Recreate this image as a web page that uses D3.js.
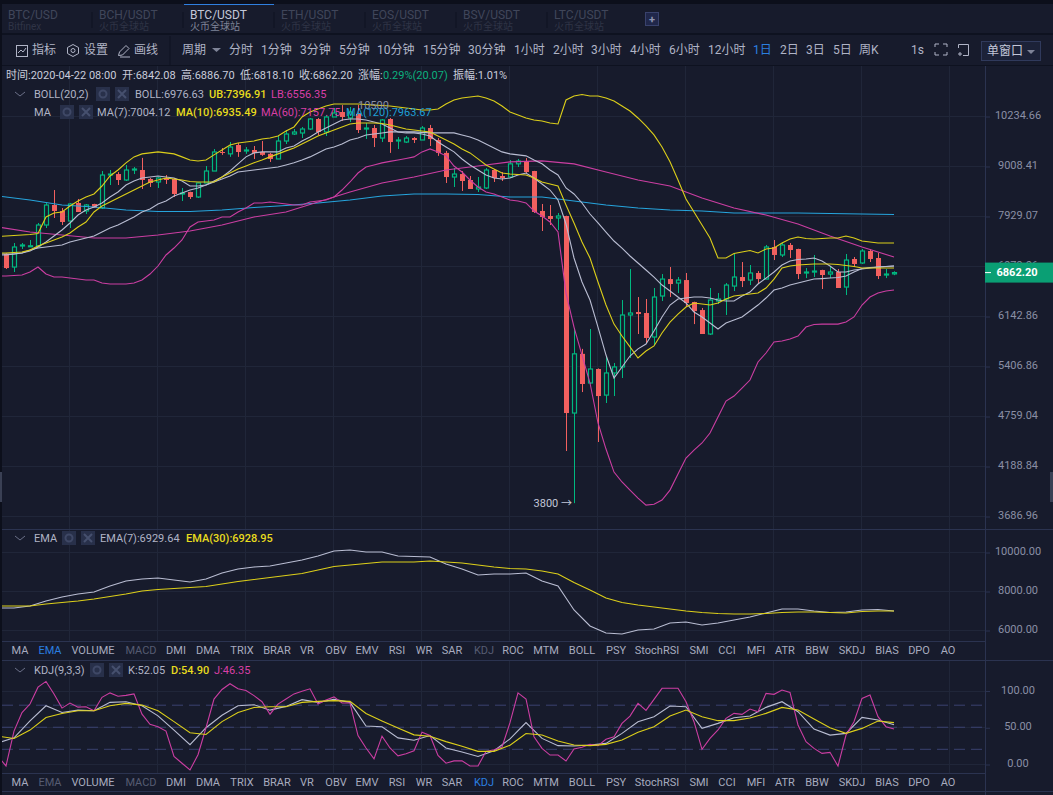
<!DOCTYPE html>
<html>
<head>
<meta charset="utf-8">
<title>BTC/USDT</title>
<script src="https://cdn.jsdelivr.net/npm/d3@7"></script>
<style>
  html, body { margin: 0; padding: 0; background: #171b2c; overflow: hidden; }
  svg { display: block; font-family: Roboto, "Noto Sans CJK SC", sans-serif; }
</style>
</head>
<body>
<svg id="chart" width="1053" height="795"></svg>
<script>
// candles, one per day
var opens = [7178,6943,7326,7318,7326,7729,8134,8011,7809,8176,
  8011,8155,8072,8781,8803,8670,8894,8894,8692,8626,
  8714,8692,8366,8408,8302,8604,8871,9312,9268,9480,
  9339,9360,9312,9268,9148,9577,9750,9775,9875,10131,
  9800,10183,10313,10157,10261,9875,9900,9650,10131,9579,
  9552,9650,9602,9900,9602,9291,8736,8803,8670,8473,
  8495,8894,8759,8736,9035,9100,8871,8011,7909,7869,
  7909,4783,5563,5164,5352,5007,5298,5380,6143,6190,
  6174,5807,6448,6733,6665,6716,6350,6221,5852,6366,
  6399,6614,6768,6716,6838,6733,7307,7160,7345,7270,
  6838,6855,6890,6820,6855,6597,7087,7015,7233,7105,
  6803,6822];
var highs = [7190,7382,7382,7439,7769,8176,8451,8072,8176,8260,
  8155,8160,8871,8894,8848,9008,8962,9174,8714,8736,
  8781,8714,8495,8415,8610,8985,9383,9407,9552,9530,
  9431,9456,9577,9291,9700,9850,9875,9925,10157,10157,
  10235,10418,10497,10445,10500,10029,9978,10131,10157,9675,
  9700,9675,9950,9978,9650,9339,8939,8871,8759,8736,
  8939,8916,8848,9124,9148,9170,8875,8155,8134,7970,
  7915,5942,5634,5927,5360,5520,5435,6382,6908,6431,
  6399,6581,6820,6943,6768,6838,6355,6254,6581,6497,
  6665,7196,7032,6979,6872,7345,7439,7382,7382,7275,
  6925,7160,6895,6961,6908,7178,7123,7270,7270,7196,
  6908,6868];
var lows = [6908,6855,7270,7307,7307,7670,7869,7729,7670,7990,
  7949,8072,8051,8560,8560,8648,8803,8473,8516,8495,
  8582,8302,8217,8260,8281,8604,8871,9244,9197,9197,
  9268,9148,9221,9078,9148,9504,9725,9650,9850,9725,
  9700,10183,10080,10054,9775,9628,9431,9552,9291,9383,
  9528,9528,9602,9456,9221,8604,8516,8430,8473,8408,
  8473,8626,8648,8714,8962,8826,7970,7612,7729,7631,
  4341,3800,5046,5151,4442,4907,4995,5230,5504,5852,
  5719,5691,6366,6431,6497,6269,6002,5852,5837,6318,
  6143,6530,6597,6631,6665,6733,7068,7123,7105,6733,
  6750,6768,6564,6750,6581,6464,6943,6997,7032,6733,
  6750,6800];
var closes = [6925,7307,7345,7330,7729,8134,8011,7789,8155,7990,
  8134,8072,8781,8803,8670,8894,8916,8670,8604,8714,
  8670,8366,8387,8302,8604,8871,9312,9291,9431,9312,
  9360,9291,9244,9148,9577,9750,9800,9875,10131,9800,
  10183,10287,10183,10313,9850,9900,9650,10106,9552,9602,
  9650,9602,9900,9625,9291,8736,8803,8648,8473,8516,
  8894,8714,8714,9035,9100,8848,7990,7889,7849,7909,
  4783,5563,5151,5352,4995,5298,5380,6143,6174,6158,
  5793,6431,6733,6648,6716,6334,6205,5852,6382,6399,
  6631,6768,6699,6838,6733,7307,7160,7345,7251,6820,
  6855,6872,6803,6855,6581,7068,6997,7233,7087,6785,
  6820,6845];

// overlay lines start one day before the first candle
var bollMid = [7178,7178,7178,7196,7251,7288,7307,7326,7345,7401,
  7439,7477,7515,7592,7670,7729,7809,7889,7990,8051,
  8155,8217,8323,8387,8451,8495,8560,8626,8692,8759,
  8848,8871,8894,8916,8939,8962,9008,9058,9124,9197,
  9291,9386,9434,9506,9604,9653,9727,9752,9777,9802,
  9802,9802,9802,9790,9777,9777,9777,9777,9727,9677,
  9604,9506,9410,9315,9268,9244,9221,9124,9035,8894,
  8781,8495,8366,8176,7949,7769,7592,7420,7288,7141,
  7015,6890,6768,6631,6530,6431,6334,6190,6112,6018,
  5927,6018,6064,6112,6205,6301,6415,6547,6581,6631,
  6665,6699,6733,6741,6750,6759,6785,6855,6916,6934,6943,6952,6961];
var bollUpper = [7505,7515,7525,7534,7544,7563,7889,7970,7990,8113,
  8217,8302,8366,8538,8759,8894,9058,9197,9268,9291,
  9315,9291,9268,9197,9124,9100,9124,9244,9360,9480,
  9530,9555,9579,9628,9653,9702,9827,9927,10183,10313,
  10392,10471,10525,10525,10525,10525,10512,10497,10484,10471,
  10445,10418,10392,10366,10366,10392,10525,10634,10689,10716,
  10743,10689,10607,10471,10313,10235,10157,10106,10080,10029,
  10003,10634,10743,10785,10743,10743,10689,10607,10471,10339,
  10157,9952,9727,9434,9081,8670,8260,7990,7729,7477,
  7105,7105,7187,7214,7242,7196,7270,7288,7382,7458,
  7496,7467,7458,7467,7477,7477,7515,7477,7420,7401,7382,7382,7382];
var bollLower = [6785,6785,6794,6803,6855,6943,6820,6768,6768,6750,
  6733,6716,6716,6665,6648,6648,6648,6665,6716,6820,
  6961,7160,7288,7439,7690,7789,7809,7828,7889,7889,
  7990,8072,8176,8176,8196,8176,8155,8134,8134,8196,
  8217,8238,8302,8451,8626,8826,8962,9008,9058,9092,
  9124,9160,9197,9315,9386,9315,9221,8985,8848,8670,
  8516,8408,8366,8302,8238,8217,8176,8011,7909,7789,
  7592,6497,5957,5546,5164,4663,4363,4114,4011,3929,
  3850,3781,3790,3830,3929,4093,4264,4352,4431,4545,
  4735,4932,4995,5098,5203,5449,5575,5734,5749,5778,
  5822,5957,5995,6002,6002,6002,6033,6112,6301,6431,6497,6530,6547];
var ma7 = [7160,7160,7178,7196,7233,7307,7401,7515,7631,7769,
  7929,8031,8093,8176,8302,8408,8560,8648,8714,8736,
  8759,8736,8714,8648,8538,8538,8560,8648,8736,8871,
  9035,9197,9291,9315,9315,9315,9410,9458,9579,9677,
  9802,9902,10003,10106,10131,10131,10106,10054,10003,9902,
  9802,9777,9777,9752,9702,9555,9434,9315,9148,9008,
  8894,8781,8714,8692,8714,8781,8826,8714,8582,8451,
  8238,7749,7105,6682,6382,5957,5546,5230,5380,5532,
  5634,5704,5897,6112,6301,6399,6415,6431,6431,6415,
  6382,6366,6366,6448,6514,6648,6750,6855,6979,7050,
  7078,7087,7105,7050,6961,6855,6855,6890,6908,6925,6943,6952,6961];
var ma10 = [7196,7196,7205,7214,7251,7326,7382,7439,7496,7573,
  7690,7789,7990,8113,8196,8281,8366,8451,8538,8626,
  8670,8714,8692,8670,8637,8626,8626,8626,8736,8826,
  8916,8985,9058,9124,9197,9268,9339,9410,9506,9604,
  9702,9777,9852,9927,10003,10029,10029,10029,10016,9978,
  9927,9877,9852,9827,9802,9702,9604,9506,9386,9291,
  9151,9008,8916,8826,8803,8792,8781,8714,8626,8582,
  8538,8134,7769,7401,7105,6682,6301,6002,5822,5662,
  5504,5603,5676,5867,6033,6158,6269,6334,6318,6301,
  6334,6399,6448,6464,6480,6497,6581,6733,6925,6961,
  6979,6988,6997,6997,6997,6988,6970,6952,6925,6925,6925,6925,6925];
// slow averages, read every 4th day
var ma60 = [7690,7592,7534,7477,7477,7534,7612,7729,7889,7990,8196,8408,8604,8736,8894,
  8985,9081,9104,9035,8848,8670,8538,8281,8072,7929,7749,7515,7307,7123];
var ma120 = [8323,8238,8134,8093,8031,8000,8000,8031,8083,8123,8176,8238,8323,8366,8366,
  8355,8302,8302,8217,8134,8072,8031,8011,7970,7970,7970,7960,7949,7939];

// lower panes, read every 2nd day except J
var ema7 = [7077,7077,7180,7436,7641,7795,7897,8205,8462,8564,8615,8513,8410,8564,8872,
  9077,9180,9231,9385,9538,9744,10000,10051,9949,9949,9744,9718,9692,9333,9077,8769,8821,
  8821,8872,8462,8205,6974,6154,5795,5744,5949,6000,6308,6359,6205,6308,6462,6615,6821,
  7026,7026,6923,6846,6872,6974,7000,6923];
var ema30 = [7180,7180,7180,7282,7359,7436,7538,7667,7795,7949,8026,8077,8128,8180,8308,8436,
  8538,8641,8744,8846,9026,9205,9282,9359,9436,9436,9436,9487,9436,9385,9282,9180,9103,
  9077,8974,8821,8385,8000,7590,7359,7231,7128,7026,6923,6846,6795,6769,6769,6795,6846,
  6872,6872,6846,6821,6897,6923,6923];
var kdjK = [27.3,34.2,57.2,77.9,68.7,71.9,71,82.5,83.4,77.9,64.1,44.8,25,48,65,77.9,79.3,
  71.9,77,86.2,82.5,86.6,82.5,50.3,49.4,34.2,31,37.4,20.4,14.9,8.9,16.7,32.8,54.9,
  33.5,23.6,23.1,24.5,26.7,40.3,56.2,63,77.5,76.6,47.1,53.9,61.6,63.9,75.7,83.4,69.8,
  46.2,38,40.3,62.1,58.5,52.05];
var kdjD = [36.5,33.3,44.8,61.8,67.3,71,71,77.9,81.1,78.8,71,56.3,41.1,38.8,56.3,68.7,75.6,
  76.5,76.5,82.5,83.9,84.8,83.9,67.3,57.2,47.5,38.3,36.5,29.1,22.7,15.8,15.8,24.1,40.2,
  38,29.9,24.5,23.6,25.4,31.3,41.7,49.4,63.9,72,63,57.6,57.6,61.2,67.5,75.7,72,
  59.8,48,40.3,47.1,57.1,54.9];
var kdjJ = [8.9,-4,43.4,68.7,80.2,103.2,111,94,74.7,81.6,
  76,76.5,71,89.4,95.4,90.8,92,94,66.4,52.6,
  49.4,43.4,8.9,-0.3,-9.5,11.2,48,87,100,107.8,
  100.9,98.6,91.7,83.4,66.4,80.2,87.1,94,97.7,100.9,
  80.2,85.7,89.9,81.6,81.6,37.4,20.4,5.7,36.5,20.4,
  9.8,12.6,16.7,42,37.4,10.3,-0.3,2.9,2.9,-4,
  -4,15.8,18.1,21.8,54.9,95.4,87.1,35.8,19.9,10.8,
  10.8,2.7,19,21.3,25.4,23.5,32.2,35.8,53.9,63.9,
  81.1,71.6,86.6,101.6,101.6,101.6,83.4,56.2,18.6,33.5,
  44.9,60.7,67.5,66.2,73.4,69.8,94.7,93.4,99.3,96.1,
  51.7,29,19.9,13.1,14.5,-4.1,38,56.2,87.9,92.5,63,49.4,46.35];

// ticks and labels
var mainTicks = [10234.66,9008.41,7929.07,6979.06,6142.86,5406.86,4759.04,4188.84,3686.96];
var emaTicks = [10000,8000,6000];
var kdjTicks = [100,50,0];
var kdjDashes = [80,50,20];
var pairs = ["BTC/USD","BCH/USDT","BTC/USDT","ETH/USDT","EOS/USDT","BSV/USDT","LTC/USDT"];
var pairSubs = ["Bitfinex","火币全球站","火币全球站","火币全球站","火币全球站","火币全球站","火币全球站"];
var periods = [["周期",182],["分时",229],["1分钟",261],["3分钟",300],["5分钟",339],["10分钟",377],
  ["15分钟",423],["30分钟",468],["1小时",514],["2小时",553],["3小时",591],["4小时",630],
  ["6小时",669],["12小时",708],["1日",753],["2日",780],["3日",806],["5日",833],["周K",859],["1s",911]];
var indicators = [["MA",20],["EMA",50],["VOLUME",93],["MACD",141],["DMI",176],["DMA",208],["TRIX",242],
  ["BRAR",277],["VR",307],["OBV",336],["EMV",367],["RSI",397],["WR",424],["SAR",452],["KDJ",484],
  ["ROC",513],["MTM",546],["BOLL",582],["PSY",616],["StochRSI",657],["SMI",699],["CCI",727],
  ["MFI",756],["ATR",785],["BBW",817],["SKDJ",852],["BIAS",887],["DPO",919],["AO",948]];

var bg = "#171b2c", gridColor = "#202639", lineColor = "#2b3350", textColor = "#b0b4c6", tickColor = "#8a8fa5";
var white = "#b9bdd2", yellow = "#dccf1a", pink = "#cb3ea2", blue = "#26a4dc";
var up = "#00b880", down = "#f2605f";

var svg = d3.select("#chart");
var x = d3.scaleLinear().domain([0, 111]).range([6, 894]);
var yMain = d3.scaleLog().domain([3686.96, 10234.66]).range([515, 115]);
var yEma = d3.scaleLinear().domain([6000, 10000]).range([629, 551]);
var yKdj = d3.scaleLinear().domain([0, 100]).range([763, 689.5]);

function label(parent, tx, ty, str, color, opts) {
  opts = opts || {};
  return parent.append("text").attr("x", tx).attr("y", ty).attr("dy", "0.35em")
    .attr("fill", color).attr("font-size", opts.size || 11)
    .attr("font-weight", opts.weight || 400)
    .attr("text-anchor", opts.anchor || "start").text(str);
}

function box(tx, ty, w, h, fill) {
  return svg.append("rect").attr("x", tx).attr("y", ty).attr("width", w).attr("height", h).attr("fill", fill);
}

function hline(x1, x2, yy, color) {
  svg.append("line").attr("x1", x1).attr("x2", x2).attr("y1", yy).attr("y2", yy).attr("stroke", color);
}

function vline(xx, y1, y2, color) {
  svg.append("line").attr("x1", xx).attr("x2", xx).attr("y1", y1).attr("y2", y2).attr("stroke", color);
}

// page chrome
box(0, 0, 1053, 795, bg);
box(0, 0, 1053, 4, "#0c0f1b");
box(0, 33, 1053, 2, "#0e1220");
box(0, 65, 1053, 1, "#0e1220");
box(0, 0, 2, 795, "#0c0f1b");
box(0, 472, 2, 30, "#3a4054");
box(1050, 472, 3, 30, "#3a4054");

// pair tabs
pairs.forEach(function(p, i) {
  var tx = 8 + 91 * i;
  var active = i == 2;
  label(svg, tx, 15, p, active ? "#c3c7d8" : "#40465a", {size: 12});
  label(svg, tx, 26, pairSubs[i], active ? "#7f8498" : "#2f3446", {size: 10});
  if (i > 0) vline(tx - 7, 12, 28, "#0e1220");
});
box(184, 4, 90, 1, "#2f7fe0");
svg.append("rect").attr("x", 645.5).attr("y", 12.5).attr("width", 13).attr("height", 13)
  .attr("fill", "#20274a").attr("stroke", "#39426c");
label(svg, 652, 19, "+", "#8d93b0", {size: 11, anchor: "middle", weight: 700});

// toolbar
label(svg, 32, 50, "指标", textColor, {size: 12});
label(svg, 84, 50, "设置", textColor, {size: 12});
label(svg, 134, 50, "画线", textColor, {size: 12});
vline(170, 36, 65, "#0e1220");
svg.append("rect").attr("x", 16.5).attr("y", 45.5).attr("width", 11).attr("height", 11).attr("fill", "none").attr("stroke", textColor);
svg.append("path").attr("d", "M18 53L21 50L23 52L26 48").attr("fill", "none").attr("stroke", textColor);
svg.append("path").attr("d", "M73 44.5L78.5 47.5L78.5 53.5L73 56.5L67.5 53.5L67.5 47.5Z").attr("fill", "none").attr("stroke", textColor);
svg.append("circle").attr("cx", 73).attr("cy", 50.5).attr("r", 2).attr("fill", "none").attr("stroke", textColor);
svg.append("path").attr("d", "M118.5 55.5L119.5 52L126 45.5L129 48.5L122.5 55ZM120 57L130 57").attr("fill", "none").attr("stroke", textColor);
periods.forEach(function(p) {
  label(svg, p[1], 50, p[0], p[0] == "1日" ? "#2b7fe0" : textColor, {size: 12});
});
svg.append("path").attr("d", "M212 48L221 48L216.5 52Z").attr("fill", "#7f8498");
svg.append("path").attr("d", "M935 47V44H939M943 44H947V47M947 52V55H943M939 55H935V52").attr("fill", "none").attr("stroke", textColor);
svg.append("path").attr("d", "M958.5 48V44.5H968.5V55.5H963M958 54H962M960 52V56").attr("fill", "none").attr("stroke", textColor);
svg.append("rect").attr("x", 981.5).attr("y", 41.5).attr("width", 59).attr("height", 19)
  .attr("fill", "#1c2238").attr("stroke", "#303a5c");
label(svg, 987, 51, "单窗口", "#c3c7d8", {size: 12});
svg.append("path").attr("d", "M1027 50L1035 50L1031 54Z").attr("fill", "#7f8498");

// panel frames
hline(2, 1053, 529.5, lineColor);
hline(2, 985, 641.5, lineColor);
hline(2, 1053, 660.5, lineColor);
hline(2, 985, 773.5, lineColor);
hline(2, 1053, 791.5, lineColor);
vline(985.5, 66, 795, lineColor);

// grid
var gridG = svg.append("g");
function grid(ticks, scale, top, bottom) {
  gridG.selectAll(null).data(ticks).enter().append("line")
    .attr("x1", 2).attr("x2", 985)
    .attr("y1", function(d) { return Math.round(scale(d)) + 1.5; })
    .attr("y2", function(d) { return Math.round(scale(d)) + 1.5; })
    .attr("stroke", gridColor);
  gridG.selectAll(null).data(d3.range(11)).enter().append("line")
    .attr("x1", function(d) { return x(d * 11 + 8) - 1 + 0.5; })
    .attr("x2", function(d) { return x(d * 11 + 8) - 1 + 0.5; })
    .attr("y1", top).attr("y2", bottom).attr("stroke", gridColor);
}
grid(mainTicks, yMain, 66, 529);
grid(emaTicks, yEma, 530, 641);
grid(kdjTicks, yKdj, 661, 773);

svg.append("g").selectAll("line").data(kdjDashes).enter().append("line")
  .attr("x1", 2).attr("x2", 985)
  .attr("y1", function(d) { return yKdj(d) + 1; }).attr("y2", function(d) { return yKdj(d) + 1; })
  .attr("stroke", "#3a4270").attr("stroke-dasharray", "11 6");

// clips
var defs = svg.append("defs");
[["clipMain", 66, 463], ["clipEma", 530, 111], ["clipKdj", 661, 112]].forEach(function(c) {
  defs.append("clipPath").attr("id", c[0]).append("rect")
    .attr("x", 2).attr("y", c[1]).attr("width", 983).attr("height", c[2]);
});

// candles
var main = svg.append("g").attr("clip-path", "url(#clipMain)");
var candles = main.selectAll("g.candle").data(d3.range(opens.length)).enter().append("g").attr("class", "candle");
candles.append("line")
  .attr("x1", function(i) { return Math.round(x(i)) + 0.5; })
  .attr("x2", function(i) { return Math.round(x(i)) + 0.5; })
  .attr("y1", function(i) { return yMain(highs[i]); })
  .attr("y2", function(i) { return yMain(lows[i]); })
  .attr("stroke", function(i) { return closes[i] >= opens[i] ? up : down; });
candles.append("rect")
  .attr("x", function(i) { return Math.round(x(i)) - 2 + (closes[i] >= opens[i] ? 0.5 : 0); })
  .attr("width", function(i) { return closes[i] >= opens[i] ? 4 : 5; })
  .attr("y", function(i) { return yMain(Math.max(opens[i], closes[i])); })
  .attr("height", function(i) { return Math.max(1, Math.abs(yMain(opens[i]) - yMain(closes[i]))); })
  .attr("fill", function(i) { return closes[i] >= opens[i] ? bg : down; })
  .attr("stroke", function(i) { return closes[i] >= opens[i] ? up : "none"; })
  .attr("stroke-width", 1.2);

// lines, stride = days between readings, first reading is the day before candle 0
function drawLine(parent, values, stride, scale, color) {
  var path = d3.line()
    .x(function(d, i) { return x(i * stride - 1); })
    .y(function(d) { return scale(d); });
  parent.append("path").datum(values).attr("d", path)
    .attr("fill", "none").attr("stroke", color).attr("stroke-width", 1.1);
}
drawLine(main, ma120, 4, yMain, blue);
drawLine(main, ma60, 4, yMain, pink);
drawLine(main, bollLower, 1, yMain, pink);
drawLine(main, bollUpper, 1, yMain, yellow);
drawLine(main, bollMid, 1, yMain, white);
drawLine(main, ma7, 1, yMain, white);
drawLine(main, ma10, 1, yMain, yellow);

var emaG = svg.append("g").attr("clip-path", "url(#clipEma)");
drawLine(emaG, ema7, 2, yEma, white);
drawLine(emaG, ema30, 2, yEma, yellow);

var kdjG = svg.append("g").attr("clip-path", "url(#clipKdj)");
drawLine(kdjG, kdjK, 2, yKdj, white);
drawLine(kdjG, kdjJ, 1, yKdj, pink);
drawLine(kdjG, kdjD, 2, yKdj, yellow);

// axes, tick mark and grid sit just under the label centre
function yAxis(scale, ticks) {
  var g = svg.append("g").attr("transform", "translate(985,1.5)")
    .call(d3.axisRight(scale).tickValues(ticks).tickSize(5).tickFormat(function(d) { return d.toFixed(2); }));
  g.select(".domain").remove();
  g.selectAll("line").attr("stroke", lineColor);
  g.selectAll("text").attr("x", 33).attr("dy", "2px").attr("text-anchor", "middle")
    .attr("fill", tickColor).attr("font-size", 11).attr("font-family", "Roboto");
}
yAxis(yMain, mainTicks);
yAxis(yEma, emaTicks);
yAxis(yKdj, kdjTicks);

// last price flag
var lastY = yMain(closes[closes.length - 1]);
box(985, lastY - 10, 68, 20, "#0a9f74");
svg.append("line").attr("x1", 985).attr("x2", 991).attr("y1", lastY).attr("y2", lastY).attr("stroke", "#fff");
label(svg, 1017, lastY, "6862.20", "#fff", {size: 11, anchor: "middle", weight: 700});

// extremes
label(svg, 358, 105, "10500", tickColor, {size: 11});
label(svg, 572, 503, "3800 →", "#c3c7d8", {size: 11, anchor: "end"});

// info line
[["时间:2020-04-22 08:00", 6], ["开:6842.08", 122], ["高:6886.70", 181], ["低:6818.10", 240], ["收:6862.20", 299], ["涨幅:", 358], ["振幅:1.01%", 453]]
  .forEach(function(t) { label(svg, t[1], 75, t[0], "#c9ccdb", {size: 11}); });
label(svg, 383, 75, "0.29%(20.07)", "#0cb07f", {size: 11});

// pane legends
function chevron(yy) {
  svg.append("path").attr("d", "M15 " + (yy - 2) + "L20 " + (yy + 2) + "L25 " + (yy - 2))
    .attr("fill", "none").attr("stroke", "#6b7088");
}
function paneButtons(tx, yy) {
  box(tx, yy - 7, 14, 14, "#28304a");
  svg.append("circle").attr("cx", tx + 7).attr("cy", yy).attr("r", 3.5).attr("fill", "none").attr("stroke", "#3f4866").attr("stroke-width", 2);
  box(tx + 19, yy - 7, 14, 14, "#28304a");
  svg.append("path").attr("d", "M" + (tx + 22) + " " + (yy - 4) + "l8 8m0 -8l-8 8").attr("stroke", "#46506e").attr("stroke-width", 2);
}
chevron(94);
label(svg, 34, 94, "BOLL(20,2)", textColor);
paneButtons(96, 94);
label(svg, 135, 94, "BOLL:6976.63", textColor);
label(svg, 209, 94, "UB:7396.91", "#e8dc1e", {weight: 500});
label(svg, 271, 94, "LB:6556.35", "#d83fa6");
label(svg, 34, 112, "MA", textColor);
paneButtons(60, 112);
label(svg, 97, 112, "MA(7):7004.12", textColor);
label(svg, 176, 112, "MA(10):6935.49", "#e8dc1e", {weight: 500});
label(svg, 261, 112, "MA(60):7157.75", "#d83fa6");
label(svg, 346, 112, "MA(120):7963.67", "#1f9fd6");

chevron(538);
label(svg, 34, 538, "EMA", textColor);
paneButtons(62, 538);
label(svg, 100, 538, "EMA(7):6929.64", textColor);
label(svg, 186, 538, "EMA(30):6928.95", "#e8dc1e", {weight: 500});

chevron(670);
label(svg, 34, 670, "KDJ(9,3,3)", textColor);
paneButtons(90, 670);
label(svg, 128, 670, "K:52.05", textColor);
label(svg, 171, 670, "D:54.90", "#e8dc1e", {weight: 500});
label(svg, 214, 670, "J:46.35", "#d83fa6");

// indicator rows
function indicatorRow(yy, selected) {
  indicators.forEach(function(t) {
    var dim = t[0] == "MACD" || t[0] == "EMA" || t[0] == "KDJ";
    var color = t[0] == selected ? "#2b7fe0" : (dim ? "#565c72" : "#a7abbf");
    label(svg, t[1], yy, t[0], color, {anchor: "middle"});
  });
}
indicatorRow(650, "EMA");
indicatorRow(782, "KDJ");
</script>
</body>
</html>
